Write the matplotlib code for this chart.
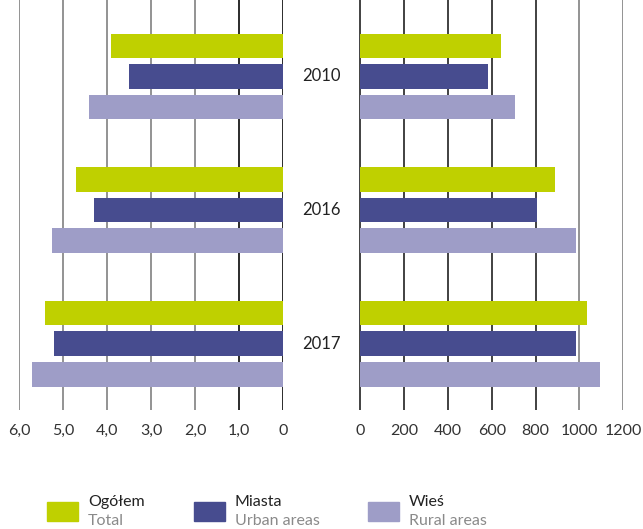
import matplotlib
matplotlib.use("Agg")
import matplotlib.pyplot as plt
from matplotlib.patches import Rectangle
import numpy as np

plt.rcParams['font.family'] = ['Lato', 'DejaVu Sans']

years = ["2010", "2016", "2017"]
series_pl = ["Ogółem", "Miasta", "Wieś"]
series_en = ["Total", "Urban areas", "Rural areas"]
colors = ["#BFD000", "#474C8F", "#9E9DC7"]

# left panel values (rate)
left_vals = {
    "Ogółem": [3.9, 4.7, 5.4],
    "Miasta": [3.5, 4.3, 5.2],
    "Wieś":   [4.4, 5.25, 5.7],
}
# right panel values
right_vals = {
    "Ogółem": [640, 889, 1035],
    "Miasta": [585, 808, 985],
    "Wieś":   [708, 985, 1094],
}
left_ticks = [6, 5, 4, 3, 2, 1, 0]
left_ticklabels = ["6,0", "5,0", "4,0", "3,0", "2,0", "1,0", "0"]
right_ticks = [0, 200, 400, 600, 800, 1000, 1200]

W, H = 643, 529
fig = plt.figure(figsize=(W / 100, H / 100), dpi=100)

ax_bottom = 1 - 410 / H
ax_h = 410 / H
axL = fig.add_axes([19 / W, ax_bottom, 264 / W, ax_h])
axR = fig.add_axes([359.3 / W, ax_bottom, 264 / W, ax_h])

offsets = [-0.2285, 0.0, 0.2285]
bar_h = 0.187
y = np.arange(len(years))

for ax, vals in ((axL, left_vals), (axR, right_vals)):
    for i, s in enumerate(series_pl):
        ax.barh(y + offsets[i], vals[s], height=bar_h, color=colors[i], zorder=3)
    ax.set_ylim(2.498, -0.573)
    ax.set_yticks([])
    for sp in ax.spines.values():
        sp.set_visible(False)
    ax.tick_params(axis='x', length=0, pad=10, labelsize=11.5, labelcolor='#333333')

axL.set_xlim(6, 0)
axL.set_xticks(left_ticks)
axL.set_xticklabels(left_ticklabels)
axR.set_xlim(0, 1200)
axR.set_xticks(right_ticks)
axR.set_xticklabels([str(t) for t in right_ticks])

for t in left_ticks:
    axL.axvline(t, color='#1a1a1a' if t in (0, 1) else '#8a8a8a', lw=1.3, zorder=1)
for t in right_ticks:
    axR.axvline(t, color='#8a8a8a' if t >= 1000 else '#333333', lw=1.3, zorder=1)
axR.set_xlim(-4, 1200)

# year labels between panels
for yi, lab in zip(y, years):
    yd = axL.transData.transform((0, yi))[1]
    yf = fig.transFigure.inverted().transform((0, yd))[1]
    fig.text(321 / W, yf, lab, ha='center', va='center', fontsize=12, color='#222222')

# legend
leg_x = [47, 194, 368]
for i in range(3):
    x0 = leg_x[i]
    fig.patches.append(Rectangle((x0 / W, 1 - 521 / H), 31 / W, 19 / H,
                                 transform=fig.transFigure, color=colors[i]))
    fig.text((x0 + 41) / W, 1 - 502 / H, series_pl[i], fontsize=11.5,
             color='#222222', va='center', ha='left')
    fig.text((x0 + 41) / W, 1 - 521 / H, series_en[i], fontsize=11.5,
             color='#8a8a8a', va='center', ha='left')

fig.savefig("out.png", dpi=100)
